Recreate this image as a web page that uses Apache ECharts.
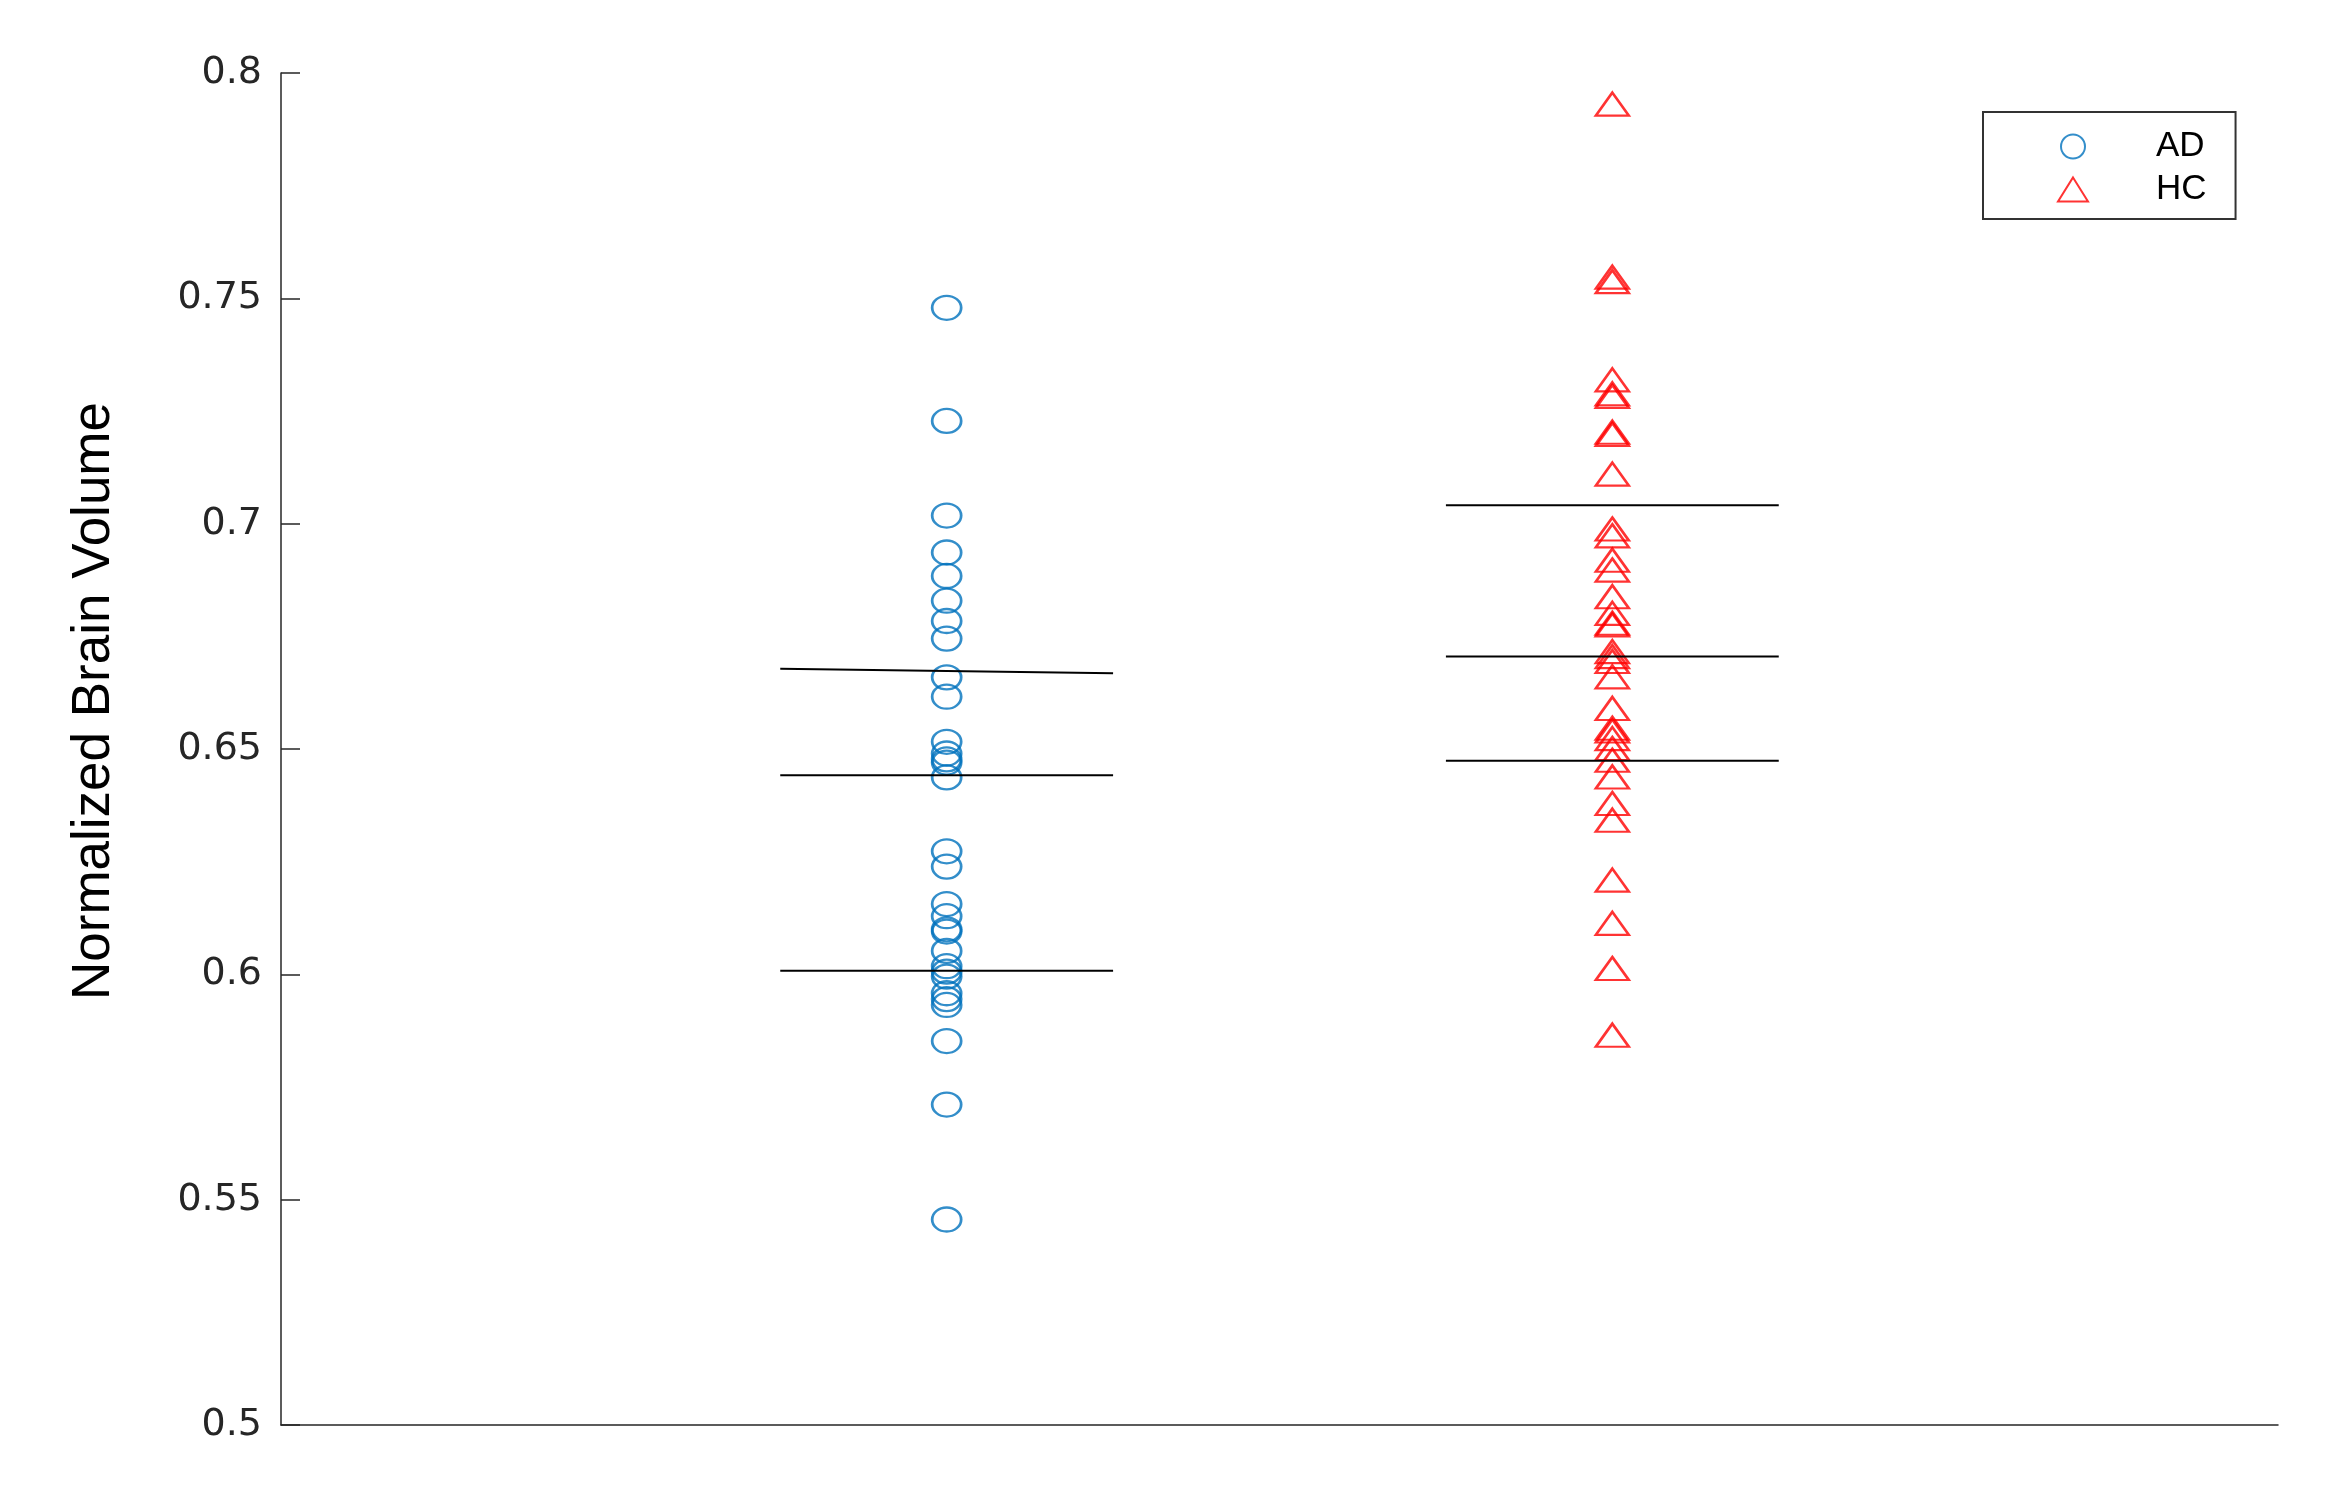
<!DOCTYPE html>
<html>
<head>
<meta charset="utf-8">
<script src="https://cdn.jsdelivr.net/npm/echarts@6/dist/echarts.min.js"></script>
<style>
  html, body { margin: 0; padding: 0; background: #fff; }
  #chart { width: 2335px; height: 1485px; }
</style>
</head>
<body>
<div id="chart"></div>
<script>
// group names and their x position on the axis
const groups = ['AD', 'HC'];
const groupX = [1, 2];

// normalized brain volume per subject
const adValues = [0.7479, 0.7228, 0.7018, 0.6936, 0.6884, 0.6829, 0.6784, 0.6745, 0.6659, 0.6616,
  0.6516, 0.649, 0.6477, 0.647, 0.6437, 0.6273, 0.6239, 0.6156, 0.6129, 0.610, 0.6095, 0.6052,
  0.6018, 0.6006, 0.5995, 0.5958, 0.5945, 0.5932, 0.5852, 0.5711, 0.5456];
const hcValues = [0.7931, 0.7547, 0.7537, 0.7319, 0.7288, 0.7282, 0.7203, 0.7198, 0.711, 0.6988,
  0.6973, 0.6919, 0.6897, 0.6838, 0.6801, 0.6779, 0.6775, 0.6716, 0.6705, 0.6694, 0.666, 0.659,
  0.6546, 0.654, 0.6523, 0.6501, 0.6475, 0.6438, 0.6379, 0.6342, 0.6209, 0.6113, 0.6013, 0.5865];

// summary lines: [value at left end, value at right end]
const adLines = [[0.6678, 0.6668], [0.6442, 0.6442], [0.6008, 0.6008]];
const hcLines = [[0.7041, 0.7041], [0.6705, 0.6705], [0.6474, 0.6474]];
const lineHalfWidth = 0.25;

const yTicks = { min: 0.5, max: 0.8, step: 0.05 };

const chart = echarts.init(document.getElementById('chart'));

const series = [];
const lineSeries = (x, pair) => ({
  type: 'line',
  silent: true,
  symbol: 'none',
  z: 3,
  lineStyle: { color: '#000', width: 2 },
  data: [[x - lineHalfWidth, pair[0]], [x + lineHalfWidth, pair[1]]]
});

series.push({
  name: groups[0],
  type: 'scatter',
  symbol: 'circle',
  symbolSize: [29, 24],
  z: 2,
  itemStyle: { color: 'rgba(0,0,0,0)', borderColor: '#0072BD', borderWidth: 2.5 },
  data: adValues.map(v => [groupX[0], v])
});
series.push({
  name: groups[1],
  type: 'scatter',
  symbol: 'triangle',
  symbolSize: [33, 23],
  z: 2,
  itemStyle: { color: 'rgba(0,0,0,0)', borderColor: '#FF0000', borderWidth: 2.5 },
  data: hcValues.map(v => [groupX[1], v])
});
adLines.forEach(p => series.push(lineSeries(groupX[0], p)));
hcLines.forEach(p => series.push(lineSeries(groupX[1], p)));

const option = {
  animation: false,
  backgroundColor: '#fff',
  grid: { left: 281, right: 57, top: 73, bottom: 60 },
  legend: {
    data: groups,
    orient: 'vertical',
    left: 1983,
    top: 112,
    padding: [17, 29, 12, 74],
    itemWidth: 30,
    itemHeight: 24,
    itemGap: 8,
    symbolKeepAspect: false,
    borderColor: '#333',
    borderWidth: 2,
    backgroundColor: '#fff',
    textStyle: {
      fontFamily: 'Liberation Sans, Arial, sans-serif',
      fontSize: 35,
      color: '#000',
      padding: [0, 0, 0, 63]
    }
  },
  xAxis: {
    type: 'value',
    min: 0,
    max: 3,
    axisLine: { show: true, onZero: false, lineStyle: { color: '#262626', width: 1.5 } },
    axisTick: { show: false },
    axisLabel: { show: false },
    splitLine: { show: false }
  },
  yAxis: {
    type: 'value',
    min: yTicks.min,
    max: yTicks.max,
    interval: yTicks.step,
    name: 'Normalized Brain Volume',
    nameLocation: 'middle',
    nameGap: 160,
    nameTextStyle: {
      fontFamily: 'Liberation Sans, Arial, sans-serif',
      fontSize: 53,
      color: '#000',
      padding: [0, 0, 0, 96]
    },
    axisLine: { show: true, lineStyle: { color: '#262626', width: 1.5 } },
    axisTick: { show: true, inside: true, length: 19, lineStyle: { color: '#262626', width: 1.5 } },
    axisLabel: {
      margin: 19,
      fontFamily: 'DejaVu Sans, sans-serif',
      fontSize: 38,
      color: '#262626'
    },
    splitLine: { show: false }
  },
  series: series
};

chart.setOption(option);
</script>
</body>
</html>
